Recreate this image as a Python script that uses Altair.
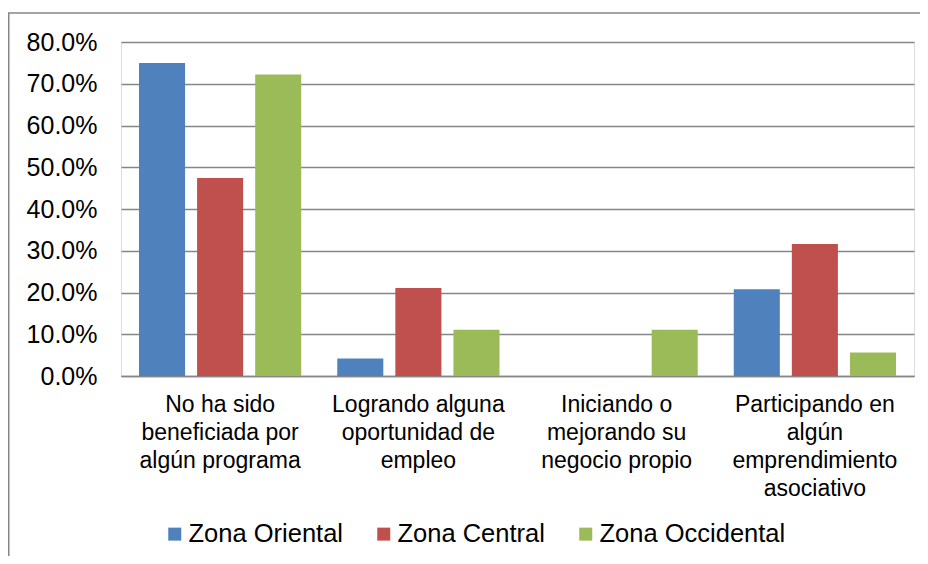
import altair as alt
import pandas as pd

categories = [
    "No ha sido\nbeneficiada por\nalgún programa",
    "Logrando alguna\noportunidad de\nempleo",
    "Iniciando o\nmejorando su\nnegocio propio",
    "Participando en\nalgún\nemprendimiento\nasociativo",
]
series = ["Zona Oriental", "Zona Central", "Zona Occidental"]
colors = ["#4F81BD", "#C0504D", "#9BBB59"]
oriental = [0.750, 0.042, 0.0, 0.208]
central = [0.474, 0.211, 0.0, 0.316]
occidental = [0.722, 0.111, 0.111, 0.056]
y_ticks = [0.0, 0.1, 0.2, 0.3, 0.4, 0.5, 0.6, 0.7, 0.8]

rows = []
for s, vals in zip(series, [oriental, central, occidental]):
    for c, v in zip(categories, vals):
        rows.append({"cat": c, "zona": s, "val": v})
df = pd.DataFrame(rows)

FONT = "Liberation Sans"
GRAY = "#868686"

bars = alt.Chart(df).mark_bar().encode(
    x=alt.X("cat:N", sort=categories, title=None,
            scale=alt.Scale(paddingInner=0, paddingOuter=0),
            axis=alt.Axis(labelExpr="split(datum.label, '\\n')", labelAngle=0,
                          labelFontSize=23, labelFont=FONT, labelColor="#000000",
                          labelLineHeight=28, labelPadding=17, ticks=False,
                          domainColor=GRAY, domainWidth=1.5, labelLimit=300)),
    xOffset=alt.XOffset("zona:N", sort=series,
                        scale=alt.Scale(paddingInner=0.207, paddingOuter=0.31)),
    y=alt.Y("val:Q", title=None,
            scale=alt.Scale(domain=[0, 0.8], nice=False),
            axis=alt.Axis(values=y_ticks, format=".1%", ticks=False, domain=False,
                          labelFontSize=25, labelFont=FONT, labelColor="#000000",
                          labelPadding=24, gridColor=GRAY, gridWidth=1.5)),
    color=alt.Color("zona:N", sort=series,
                    scale=alt.Scale(domain=series, range=colors),
                    legend=alt.Legend(title=None, orient="none", direction="horizontal",
                                      legendX=41, legendY=479,
                                      symbolType="square", symbolSize=169,
                                      symbolStrokeWidth=0, labelFontSize=25.5,
                                      labelFont=FONT, labelColor="#000000",
                                      labelOffset=1, columnPadding=28,
                                      labelLimit=400)),
)

frame_df = pd.DataFrame({"a": [0]})
top_line = alt.Chart(frame_df).mark_rule(color=GRAY, strokeWidth=1.5).encode(
    x=alt.value(-113), x2=alt.value(807), y=alt.value(-29))
left_line = alt.Chart(frame_df).mark_rule(color=GRAY, strokeWidth=2).encode(
    x=alt.value(-112.5), y=alt.value(-29), y2=alt.value(530))

chart = alt.layer(bars, top_line, left_line).properties(
    width=793, height=334,
    autosize=alt.AutoSizeParams(type="none"),
    padding={"left": 113, "top": 34, "right": 6, "bottom": 180},
).configure_view(stroke=None).configure(background="#ffffff")

chart.save("out.html", embed_options={"renderer": "svg", "actions": False})
